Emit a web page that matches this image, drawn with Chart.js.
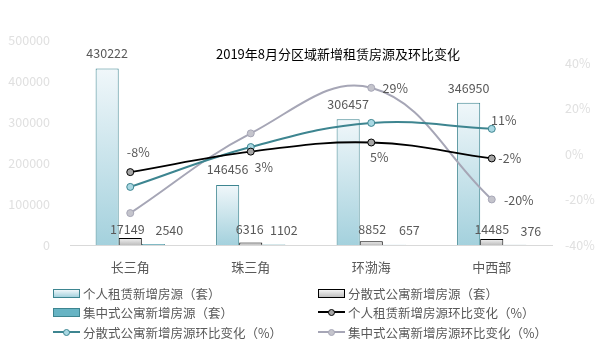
<!DOCTYPE html>
<html>
<head>
<meta charset="utf-8">
<script src="https://cdn.jsdelivr.net/npm/chart.js@4.4.0/dist/chart.umd.min.js"></script>
<style>
  body { margin: 0; background: #fff; }
  #box { position: relative; width: 600px; height: 350px; }
  .lg { position: absolute; font: 12.5px "Noto Sans CJK SC", sans-serif; color: #595959; white-space: nowrap; }
  .lg i { position: absolute; left: 0; top: 50%; }
  .lg span { position: absolute; left: 30px; top: 50%; transform: translateY(-50%); }
</style>
</head>
<body>
<div id="box">
  <canvas id="grafico" width="600" height="350"></canvas>
</div>
<script>
var regioes = ['长三角', '珠三角', '环渤海', '中西部'];
var geren = [430222, 146456, 306457, 346950];
var fensan = [17149, 6316, 8852, 14485];
var jizhong = [2540, 1102, 657, 376];
var gerenHuanbi = [-8, 1, 5, -2];
var fensanHuanbi = [-14.5, 3, 13.6, 11];
var jizhongHuanbi = [-26, 9, 29, -20];
var ticksEsq = [0, 100000, 200000, 300000, 400000, 500000];
var ticksDir = [-40, -20, 0, 20, 40];

var fonte = '"Noto Sans CJK SC", sans-serif';

function degrade(topo, base) {
    return function (c) {
        var chart = c.chart;
        if (!chart.chartArea || c.raw === undefined) return base;
        var y = chart.scales.y;
        var g = chart.ctx.createLinearGradient(0, y.getPixelForValue(c.raw), 0, y.getPixelForValue(0));
        g.addColorStop(0, topo);
        g.addColorStop(1, base);
        return g;
    };
}

// rotulos: [indice, dx, dy]
var rotulosPlugin = {
    id: 'rotulos',
    afterDatasetsDraw: function (chart) {
        var ctx = chart.ctx;
        ctx.save();
        ctx.font = '12.5px ' + fonte;
        ctx.fillStyle = '#595959';
        ctx.textAlign = 'center';
        ctx.textBaseline = 'middle';
        chart.data.datasets.forEach(function (ds, i) {
            if (!ds.rotulos) return;
            var meta = chart.getDatasetMeta(i);
            ds.rotulos.forEach(function (r) {
                var el = meta.data[r[0]];
                var txt = ds.type === 'line' ? ds.data[r[0]] + '%' : String(ds.data[r[0]]);
                ctx.fillText(txt, el.x + r[1], el.y + r[2]);
            });
        });
        // titulo
        ctx.font = '13px ' + fonte;
        ctx.fillStyle = '#000';
        ctx.fillText('2019年8月分区域新增租赁房源及环比变化', 338, 54);
        ctx.restore();
    }
};

new Chart(document.getElementById('grafico'), {
    data: {
        labels: regioes,
        datasets: [
            {
                type: 'line', label: '个人租赁新增房源环比变化（%）', data: gerenHuanbi, yAxisID: 'y1', order: 0,
                borderColor: '#000', borderWidth: 1.8, tension: 0.4,
                pointRadius: 3.5, pointBackgroundColor: '#a6a6a6', pointBorderColor: '#000', pointBorderWidth: 1,
                rotulos: [[0, 8, -20], [2, 8, 15], [3, 18, 0]]
            },
            {
                type: 'line', label: '分散式公寓新增房源环比变化（%）', data: fensanHuanbi, yAxisID: 'y1', order: 0,
                borderColor: '#3d8590', borderWidth: 2, tension: 0.4,
                pointRadius: 3.5, pointBackgroundColor: '#a9d8e3', pointBorderColor: '#3d8590', pointBorderWidth: 1,
                rotulos: [[1, 13, 20], [3, 12, -9]]
            },
            {
                type: 'line', label: '集中式公寓新增房源环比变化（%）', data: jizhongHuanbi, yAxisID: 'y1', order: 0,
                borderColor: '#a6a6b6', borderWidth: 2, tension: 0.4,
                pointRadius: 3.5, pointBackgroundColor: '#c4c4cc', pointBorderColor: '#a6a6b6', pointBorderWidth: 1,
                rotulos: [[2, 24, 0], [3, 27, 1]]
            },
            {
                type: 'bar', label: '个人租赁新增房源（套）', data: geren, yAxisID: 'y', order: 1,
                backgroundColor: degrade('#f0f7fa', '#a4d1dd'), borderColor: '#3d8590', borderWidth: 1,
                rotulos: [[0, 0, -15], [1, 0, -16], [2, 0, -15], [3, 0, -15]]
            },
            {
                type: 'bar', label: '分散式公寓新增房源（套）', data: fensan, yAxisID: 'y', order: 1,
                backgroundColor: degrade('#f4f4f4', '#bfbfbf'), borderColor: '#000', borderWidth: 1,
                rotulos: [[0, -3, -9], [1, -1, -13], [2, 1, -12], [3, 0, -10]]
            },
            {
                type: 'bar', label: '集中式公寓新增房源（套）', data: jizhong, yAxisID: 'y', order: 1,
                backgroundColor: '#67b4c4', borderColor: '#3d8590', borderWidth: 1,
                rotulos: [[0, 16, -14], [1, 10, -14], [2, 15, -14], [3, 16, -14]]
            }
        ]
    },
    options: {
        responsive: false,
        animation: false,
        layout: { padding: { top: 40, bottom: 75, left: 0, right: 0 } },
        datasets: { bar: { barPercentage: 1, categoryPercentage: 0.575 } },
        plugins: { legend: { display: false }, tooltip: { enabled: false } },
        scales: {
            x: {
                grid: { display: false, drawTicks: false },
                border: { color: '#d9d9d9', width: 1 },
                ticks: { color: '#595959', font: { size: 13, family: fonte }, padding: 14 },
                afterFit: function (s) { s.height = 30; }
            },
            y: {
                position: 'left', min: 0, max: 500000,
                grid: { display: false, drawTicks: false },
                border: { display: false },
                afterBuildTicks: function (s) { s.ticks = ticksEsq.map(function (v) { return { value: v }; }); },
                ticks: { color: '#e0e0e0', font: { size: 12.5, family: fonte }, padding: 20,
                    callback: function (v) { return String(v); } },
                afterFit: function (s) { s.width = 70; }
            },
            y1: {
                position: 'right', min: -40, max: 50,
                grid: { display: false, drawTicks: false },
                border: { display: false },
                afterBuildTicks: function (s) { s.ticks = ticksDir.map(function (v) { return { value: v }; }); },
                ticks: { color: '#e0e0e0', font: { size: 12.5, family: fonte }, padding: 13,
                    callback: function (v) { return v + '%'; } },
                afterFit: function (s) { s.width = 48; }
            }
        }
    },
    plugins: [rotulosPlugin]
});

// legenda
var legenda = [
    { txt: '个人租赁新增房源（套）', x: 53, y: 293, tipo: 'box', fundo: 'linear-gradient(#f0f7fa,#a4d1dd)', borda: '#3d8590' },
    { txt: '分散式公寓新增房源（套）', x: 318, y: 293, tipo: 'box', fundo: 'linear-gradient(#f4f4f4,#bfbfbf)', borda: '#000' },
    { txt: '集中式公寓新增房源（套）', x: 53, y: 312, tipo: 'box', fundo: '#67b4c4', borda: '#3d8590' },
    { txt: '个人租赁新增房源环比变化（%）', x: 318, y: 312, tipo: 'line', linha: '#000', ponto: '#a6a6a6', borda: '#000' },
    { txt: '分散式公寓新增房源环比变化（%）', x: 53, y: 332, tipo: 'line', linha: '#3d8590', ponto: '#a9d8e3', borda: '#3d8590' },
    { txt: '集中式公寓新增房源环比变化（%）', x: 318, y: 332, tipo: 'line', linha: '#a6a6b6', ponto: '#c4c4cc', borda: '#a6a6b6' }
];
var box = document.getElementById('box');
legenda.forEach(function (item) {
    var d = document.createElement('div');
    d.className = 'lg';
    d.style.left = item.x + 'px';
    d.style.top = (item.y - 10) + 'px';
    d.style.height = '20px';
    d.style.width = '260px';
    var marca;
    if (item.tipo === 'box') {
        marca = '<i style="width:25px;height:7px;margin-top:-4.5px;border:1px solid ' + item.borda + ';background:' + item.fundo + '"></i>';
    } else {
        marca = '<i style="width:27px;height:2px;margin-top:-1px;background:' + item.linha + '"></i>' +
            '<i style="left:10px;width:5px;height:5px;margin-top:-3.5px;border-radius:50%;border:1px solid ' + item.borda + ';background:' + item.ponto + '"></i>';
    }
    d.innerHTML = marca + '<span>' + item.txt + '</span>';
    box.appendChild(d);
});
</script>
</body>
</html>
